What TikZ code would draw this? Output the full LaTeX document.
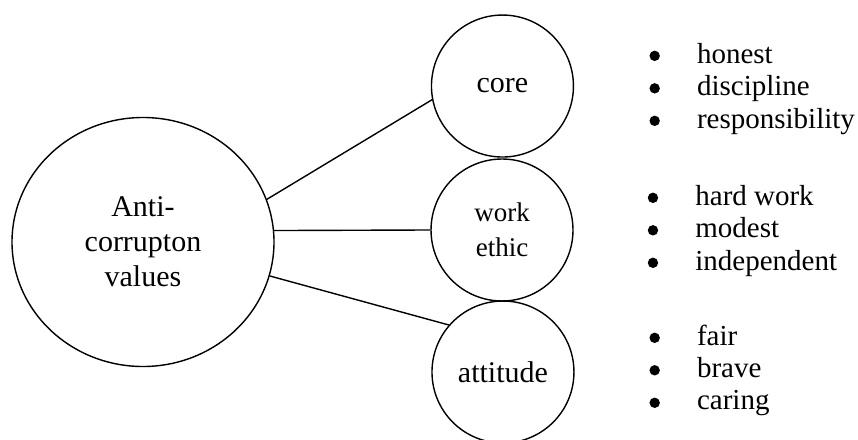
\documentclass[tikz,border=0pt]{standalone}
\usepackage{fontspec}
\setmainfont{Liberation Serif}
\usetikzlibrary{shapes.geometric}

\tikzset{
  bubble/.style={draw, circle, line width=0.7pt, minimum size=2.495cm, inner sep=0pt, align=center, font=\fontsize{15}{17.5}\selectfont},
  valitem/.style={inner sep=0pt, anchor=base west, font=\fontsize{14.5}{16}\selectfont},
  link/.style={line width=0.7pt}
}

\begin{document}
\begin{tikzpicture}
    \useasboundingbox (0,0) rectangle (15.078,7.715);

    \node[draw, ellipse, line width=0.7pt, minimum width=4.604cm, minimum height=4.376cm, inner sep=0pt, align=center, font=\fontsize{15}{17.5}\selectfont] at (2.513,3.462) (anti) {Anti-\\corrupton\\values};

    \node[bubble] at (8.830,6.203) (core) {core};
    \node[bubble, font=\fontsize{13.5}{17.5}\selectfont] at (8.822,3.673) (work) {work\\ethic};
    \node[bubble] at (8.839,1.177) (att) {attitude};

    \draw[link] (anti.19) -- (core.191);
    \draw[link] (anti.5) -- (work.west);
    \draw[link] (anti.-15) -- (att.139);

    % value lists
    \foreach \val [count=\i] in {honest, discipline, responsibility}{
        \node[valitem] at (12.243, {6.607-0.571*(\i-1)}) (core-\i) {\val};
        \fill ([xshift=-21pt, yshift=3.6pt]core-\i.base west) circle (2.6pt);
    }
    \foreach \val [count=\i] in {hard work, modest, independent}{
        \node[valitem] at (12.213, {4.112-0.571*(\i-1)}) (work-\i) {\val};
        \fill ([xshift=-21pt, yshift=3.6pt]work-\i.base west) circle (2.6pt);
    }
    \foreach \val [count=\i] in {fair, brave, caring}{
        \node[valitem] at (12.243, {1.652-0.571*(\i-1)}) (att-\i) {\val};
        \fill ([xshift=-21pt, yshift=3.6pt]att-\i.base west) circle (2.6pt);
    }
\end{tikzpicture}
\end{document}
